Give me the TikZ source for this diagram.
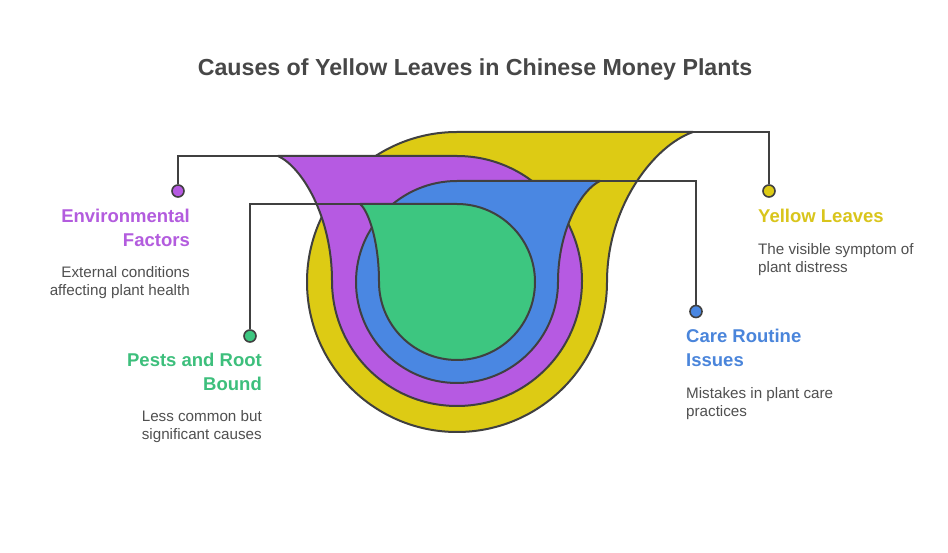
\documentclass[tikz,border=0pt]{standalone}
\usepackage{fontspec}
\setmainfont{Liberation Sans}
\definecolor{cyellow}{HTML}{DDCB14}
\definecolor{cpurple}{HTML}{B65AE2}
\definecolor{cblue}{HTML}{4A87E2}
\definecolor{cgreen}{HTML}{3DC680}
\definecolor{tyellow}{HTML}{D9C51C}
\definecolor{tpurple}{HTML}{B35CDE}
\definecolor{tblue}{HTML}{4A85DB}
\definecolor{tgreen}{HTML}{3DBF7C}
\definecolor{outline}{HTML}{404040}
\definecolor{titlegray}{HTML}{474747}
\definecolor{bodygray}{HTML}{505050}
\begin{document}
\begin{tikzpicture}[x=1pt,y=1pt,
  blob/.style={draw=outline, line width=2pt, line join=round},
  conn/.style={draw=outline, line width=2pt},
  dotst/.style={circle, draw=outline, line width=1.6pt, minimum size=12pt, inner sep=0pt},
  head/.style={font=\bfseries\fontsize{18.5}{24}\selectfont, inner sep=0pt},
  body/.style={font=\fontsize{15.2}{18}\selectfont, text=bodygray, inner sep=0pt}]
\useasboundingbox (0,0) rectangle (948,552);
\fill[white] (0,0) rectangle (948,552);

\node[font=\bfseries\fontsize{23.2}{27}\selectfont, text=titlegray] (title) at (475,482) {Causes of Yellow Leaves in Chinese Money Plants};

% tail corners
\coordinate (yc) at (693,420);
\coordinate (pc) at (278,396);
\coordinate (bc) at (600,371);
\coordinate (gc) at (360,348);

% shapes
\path[blob, fill=cyellow] (457,420) arc[start angle=90, end angle=360, radius=150]
  .. controls (607,347) and (655,407) .. (yc) -- cycle;
\path[blob, fill=cpurple] (457,396) arc[start angle=90, end angle=-180, radius=125]
  .. controls (332,335.5) and (302,385) .. (pc) -- cycle;
\path[blob, fill=cblue] (457,371) arc[start angle=90, end angle=360, radius=101]
  .. controls (558,322.5) and (581.5,362.4) .. (bc) -- cycle;
\path[blob, fill=cgreen] (457,348) arc[start angle=90, end angle=-180, radius=78]
  .. controls (379,310.6) and (368.4,341.4) .. (gc) -- cycle;

% dots
\node[dotst, fill=cyellow] (dy) at (769,361) {};
\node[dotst, fill=cpurple] (dp) at (178,361) {};
\node[dotst, fill=cblue] (db) at (696,240.5) {};
\node[dotst, fill=cgreen] (dg) at (250,216) {};

% connectors
\draw[conn] (yc) -| (dy.north);
\draw[conn] (pc) -| (dp.north);
\draw[conn] (bc) -| (db.north);
\draw[conn] (gc) -| (dg.north);

% labels
\node[head, text=tpurple, align=right, anchor=north east] (envh) at (190,343.5) {Environmental\\Factors};
\node[body, align=right, anchor=north east] (envb) at (190,285.3) {External conditions\\affecting plant health};
\node[head, text=tgreen, align=right, anchor=north east] (pesth) at (262,199.5) {Pests and Root\\Bound};
\node[body, align=right, anchor=north east] (pestb) at (262,141.3) {Less common but\\significant causes};
\node[head, text=tyellow, align=left, anchor=north west] (yelh) at (758,343.5) {Yellow Leaves};
\node[body, align=left, anchor=north west] (yelb) at (758,308.3) {The visible symptom of\\plant distress};
\node[head, text=tblue, align=left, anchor=north west] (careh) at (686,223.5) {Care Routine\\Issues};
\node[body, align=left, anchor=north west] (careb) at (686,164.3) {Mistakes in plant care\\practices};
\end{tikzpicture}
\end{document}
